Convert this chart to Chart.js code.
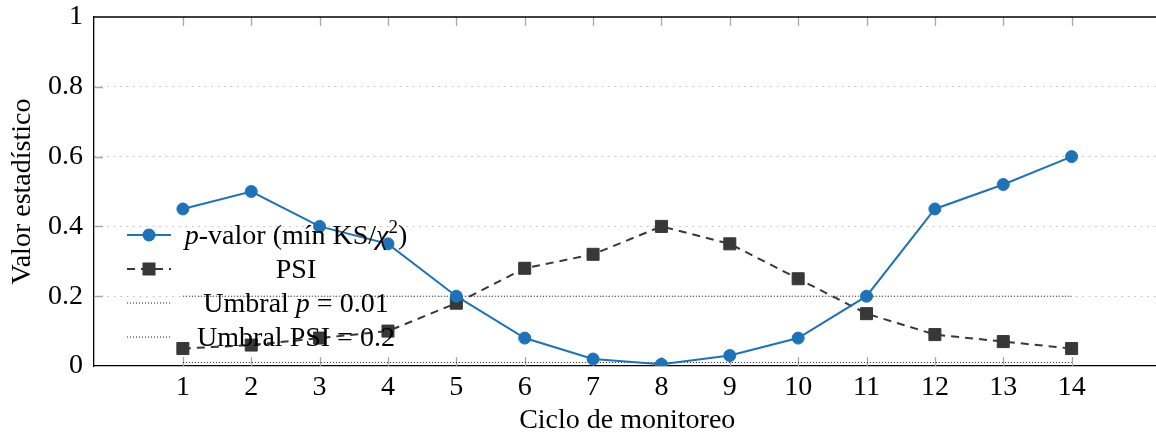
<!DOCTYPE html>
<html lang="es">
<head>
<meta charset="utf-8">
<title>Valor estadístico por ciclo de monitoreo</title>
<script src="https://cdn.jsdelivr.net/npm/chart.js@4.4.1/dist/chart.umd.min.js"></script>
<style>
  html, body { margin: 0; padding: 0; background: #fff; overflow: hidden; }
  #wrap { width: 1170px; height: 437px; }
</style>
</head>
<body>
<div id="wrap"><canvas id="monitorChart" width="1170" height="437" aria-label="Valor estadístico por ciclo de monitoreo"></canvas></div>
<script>
// values
const cycles = [1, 2, 3, 4, 5, 6, 7, 8, 9, 10, 11, 12, 13, 14];
const pValues = [0.45, 0.50, 0.40, 0.35, 0.20, 0.08, 0.02, 0.005, 0.03, 0.08, 0.20, 0.45, 0.52, 0.60];
const psiValues = [0.05, 0.06, 0.08, 0.10, 0.18, 0.28, 0.32, 0.40, 0.35, 0.25, 0.15, 0.09, 0.07, 0.05];
const yTicks = [0, 0.2, 0.4, 0.6, 0.8, 1];
const P_THRESHOLD = 0.01;
const PSI_THRESHOLD = 0.2;

const SERIF = '"Liberation Serif", "DejaVu Serif", serif';
const FONT_SIZE = 28;
const SUP_SIZE = 19;
const BLUE = '#1f72b6';
const DARK = '#383838';
const TICK_GREY = '#a8a8a8';

const thresholdLine = (value) => [
  { x: cycles[0], y: value },
  { x: cycles[cycles.length - 1], y: value },
];

// gray inner tick marks + top frame line (pgfplots style box)
const framePlugin = {
  id: 'frame',
  beforeDatasetsDraw(chart) {
    const { ctx, chartArea: a, scales: { x, y } } = chart;
    ctx.save();
    ctx.strokeStyle = TICK_GREY;
    ctx.lineWidth = 1.3;
    ctx.beginPath();
    cycles.forEach((c) => {
      const px = Math.round(x.getPixelForValue(c)) + 0.5;
      ctx.moveTo(px, a.bottom);
      ctx.lineTo(px, a.bottom - 9);
      ctx.moveTo(px, a.top);
      ctx.lineTo(px, a.top + 9);
    });
    yTicks.slice(1, -1).forEach((v) => {
      const py = Math.round(y.getPixelForValue(v)) + 0.5;
      ctx.moveTo(a.left, py);
      ctx.lineTo(a.left + 9, py);
    });
    ctx.stroke();
    ctx.strokeStyle = '#000';
    ctx.lineWidth = 1.3;
    ctx.beginPath();
    ctx.moveTo(a.left, a.top);
    ctx.lineTo(a.right, a.top);
    ctx.stroke();
    ctx.restore();
  },
};

function font(italic, size) {
  return `${italic ? 'italic ' : ''}${size}px ${SERIF}`;
}

function drawRich(ctx, parts, cx, baseline) {
  const widths = parts.map((p) => {
    ctx.font = font(p.italic, p.sup ? SUP_SIZE : FONT_SIZE);
    return ctx.measureText(p.text).width;
  });
  let xPos = cx - widths.reduce((s, w) => s + w, 0) / 2;
  parts.forEach((p, i) => {
    ctx.font = font(p.italic, p.sup ? SUP_SIZE : FONT_SIZE);
    ctx.fillText(p.text, xPos, p.sup ? baseline - 11 : baseline);
    xPos += widths[i];
  });
}

// legend drawn inside the plot without a background, like the reference
const legendPlugin = {
  id: 'innerLegend',
  afterDatasetsDraw(chart) {
    const { ctx, chartArea: a } = chart;
    const x0 = a.left + 33;
    const x1 = a.left + 77;
    const textCx = a.left + 202;
    const rows = [235, 269, 303, 337];
    const entries = [
      { color: BLUE, width: 2, dash: [], marker: 'circle',
        parts: [{ text: 'p', italic: true }, { text: '-valor (mín KS/' }, { text: 'χ', italic: true }, { text: '2', sup: true }, { text: ')' }] },
      { color: DARK, width: 2, dash: [8, 6], marker: 'rect', parts: [{ text: 'PSI' }] },
      { color: '#222', width: 1, dash: [1, 2], marker: null,
        parts: [{ text: 'Umbral ' }, { text: 'p', italic: true }, { text: ' = 0.01' }] },
      { color: '#222', width: 1, dash: [1, 2], marker: null, parts: [{ text: 'Umbral PSI = 0.2' }] },
    ];
    ctx.save();
    entries.forEach((e, i) => {
      const cy = rows[i];
      ctx.strokeStyle = e.color;
      ctx.lineWidth = e.width;
      ctx.setLineDash(e.dash);
      ctx.beginPath();
      ctx.moveTo(x0, cy);
      ctx.lineTo(x1, cy);
      ctx.stroke();
      ctx.setLineDash([]);
      ctx.fillStyle = e.color;
      const mx = (x0 + x1) / 2;
      if (e.marker === 'circle') {
        ctx.beginPath();
        ctx.arc(mx, cy, 6.5, 0, Math.PI * 2);
        ctx.fill();
      } else if (e.marker === 'rect') {
        ctx.fillRect(mx - 6.5, cy - 6.5, 13, 13);
      }
      ctx.fillStyle = '#000';
      ctx.textBaseline = 'alphabetic';
      ctx.textAlign = 'left';
      drawRich(ctx, e.parts, textCx, cy + 9);
    });
    ctx.restore();
  },
};

new Chart(document.getElementById('monitorChart'), {
  type: 'line',
  data: {
    datasets: [
      {
        label: 'p-valor (mín KS/χ²)',
        data: cycles.map((c, i) => ({ x: c, y: pValues[i] })),
        borderColor: BLUE,
        backgroundColor: BLUE,
        borderWidth: 2,
        pointStyle: 'circle',
        pointRadius: 6,
        pointBorderWidth: 1,
        tension: 0,
      },
      {
        label: 'PSI',
        data: cycles.map((c, i) => ({ x: c, y: psiValues[i] })),
        borderColor: DARK,
        backgroundColor: DARK,
        borderWidth: 2,
        borderDash: [8, 6],
        pointStyle: 'rect',
        pointRadius: 8.5,
        pointBorderWidth: 1,
        tension: 0,
      },
      {
        label: 'Umbral p = 0.01',
        data: thresholdLine(P_THRESHOLD),
        borderColor: '#222',
        borderWidth: 1,
        borderDash: [1, 2],
        pointRadius: 0,
      },
      {
        label: 'Umbral PSI = 0.2',
        data: thresholdLine(PSI_THRESHOLD),
        borderColor: '#222',
        borderWidth: 1,
        borderDash: [1, 2],
        pointRadius: 0,
      },
    ],
  },
  options: {
    responsive: false,
    animation: false,
    layout: { padding: { top: 17, right: 9, left: 0, bottom: 0 } },
    plugins: { legend: { display: false }, tooltip: { enabled: false } },
    scales: {
      x: {
        type: 'linear',
        min: -0.3,
        max: 15.3,
        afterBuildTicks: (scale) => { scale.ticks = cycles.map((v) => ({ value: v })); },
        afterFit: (scale) => { scale.height = 71; scale.paddingLeft = 0; scale.paddingRight = 0; },
        ticks: { color: '#000', font: { family: SERIF, size: FONT_SIZE }, padding: 5, maxRotation: 0, autoSkip: false },
        grid: { display: false, drawTicks: false },
        border: { display: true, color: '#000', width: 1.3 },
        title: {
          display: true,
          text: 'Ciclo de monitoreo',
          color: '#000',
          font: { family: SERIF, size: FONT_SIZE },
          padding: { top: 0, bottom: 0 },
        },
      },
      y: {
        min: 0,
        max: 1,
        afterBuildTicks: (scale) => { scale.ticks = yTicks.map((v) => ({ value: v })); },
        afterFit: (scale) => { scale.width = 94; scale.paddingTop = 0; scale.paddingBottom = 0; },
        ticks: { color: '#000', font: { family: SERIF, size: FONT_SIZE }, padding: 11, callback: (v) => String(v) },
        grid: {
          drawTicks: false,
          color: (ctx) => (ctx.tick && (ctx.tick.value === 0 || ctx.tick.value === 1) ? 'rgba(0,0,0,0)' : '#bdbdbd'),
          lineWidth: 1,
        },
        border: { display: true, color: '#000', width: 1.3, dash: [1.5, 5] },
        title: {
          display: true,
          text: 'Valor estadístico',
          color: '#000',
          font: { family: SERIF, size: FONT_SIZE },
          padding: { top: 6, bottom: 0 },
        },
      },
    },
  },
  plugins: [framePlugin, legendPlugin],
});
</script>
</body>
</html>
